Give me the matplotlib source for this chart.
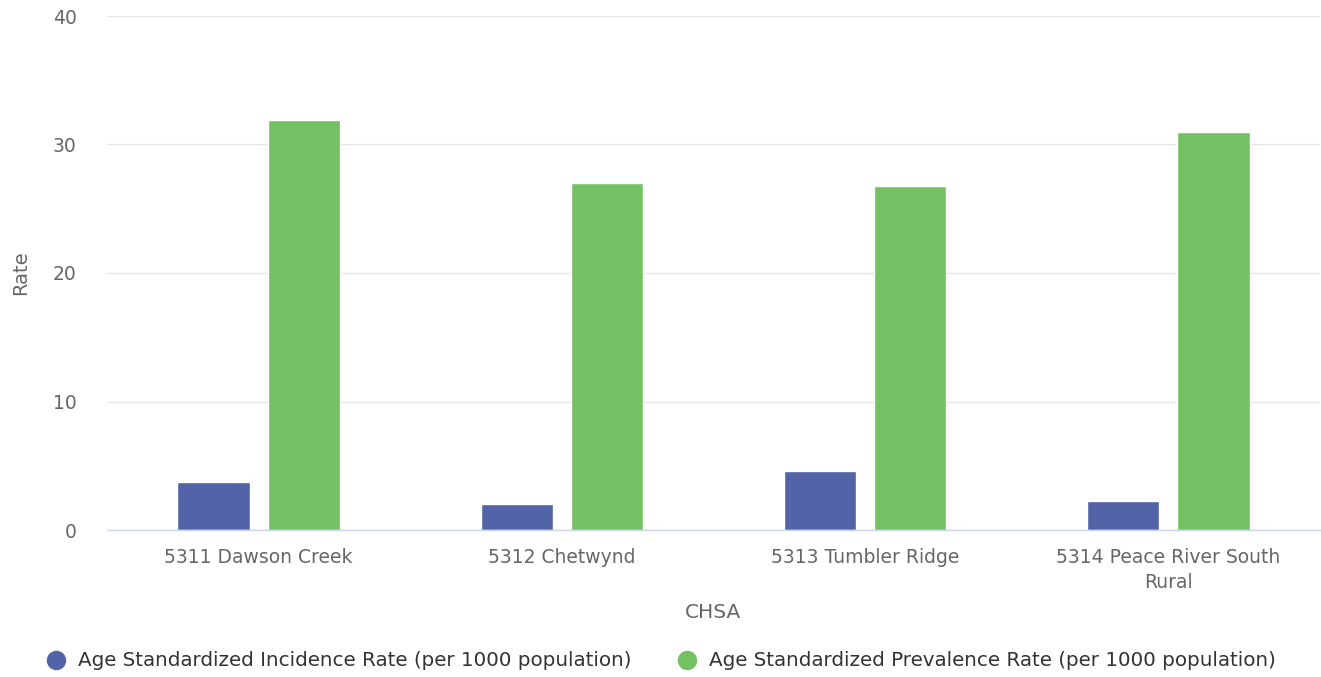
import matplotlib

matplotlib.use("Agg")

import matplotlib.pyplot as plt
import numpy as np
from matplotlib.lines import Line2D

categories = ["5311 Dawson Creek", "5312 Chetwynd", "5313 Tumbler Ridge", "5314 Peace River South\nRural"]
incidence = [3.76, 2.0, 4.62, 2.28]
prevalence = [31.9, 27.0, 26.76, 31.0]
series_names = [
    "Age Standardized Incidence Rate (per 1000 population)",
    "Age Standardized Prevalence Rate (per 1000 population)",
]
y_ticks = [0, 10, 20, 30, 40]

BLUE = "#5363a8"
GREEN = "#74c163"

fig = plt.figure(figsize=(13.21, 6.77), dpi=100)
ax = fig.add_axes([107 / 1321, 147 / 677, 1213 / 1321, 514 / 677])

x = np.arange(len(categories))
width = 0.238
offset = 0.149
ax.bar(x - offset, incidence, width, color=BLUE, edgecolor="white", linewidth=1, zorder=3)
ax.bar(x + offset, prevalence, width, color=GREEN, edgecolor="white", linewidth=1, zorder=3)

ax.set_xlim(-0.5, len(categories) - 0.5)
ax.set_ylim(0, 40)
ax.set_yticks(y_ticks)
ax.set_xticks(x)
ax.set_xticklabels(categories, fontsize=13.5, color="#666666", linespacing=1.4)
ax.tick_params(axis="y", length=0, labelsize=13.5, labelcolor="#666666", pad=22)
ax.tick_params(axis="x", length=0, pad=13)
ax.grid(axis="y", color="#e6e6e6", linewidth=1, zorder=0)
for side in ["top", "right", "left"]:
    ax.spines[side].set_visible(False)
ax.spines["bottom"].set_color("#ccd6eb")
ax.spines["bottom"].set_linewidth(1)
ax.spines["bottom"].set_zorder(4)

ax.set_xlabel("CHSA", fontsize=14.5, color="#666666", labelpad=8)
ax.set_ylabel("Rate", fontsize=14, color="#666666", labelpad=16)

handles = [
    Line2D([], [], marker="o", linestyle="", markersize=13, color=BLUE),
    Line2D([], [], marker="o", linestyle="", markersize=13, color=GREEN),
]
fig.legend(
    handles,
    series_names,
    loc="center",
    bbox_to_anchor=(0.5, 1 - 661 / 677),
    ncol=2,
    frameon=False,
    fontsize=14.3,
    labelcolor="#333333",
    handletextpad=0.6,
    columnspacing=2.2,
    handlelength=1.1,
)

fig.savefig("out.png", dpi=100)
